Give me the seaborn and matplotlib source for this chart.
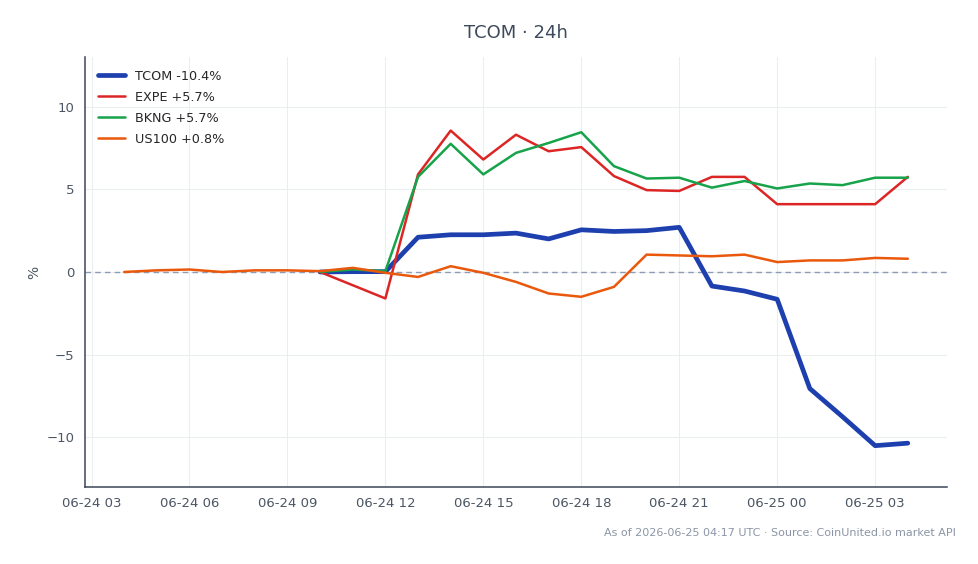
import matplotlib
matplotlib.use("Agg")
import matplotlib.pyplot as plt
import matplotlib.dates as mdates
import numpy as np
import pandas as pd
import seaborn as sns

# hourly points, 06-24 04:00 -> 06-25 04:00
times = pd.date_range("2026-06-24 04:00", "2026-06-25 04:00", freq="h")

us100 = [0.0, 0.1, 0.15, 0.0, 0.1, 0.1, 0.05, 0.25, -0.05, -0.3, 0.35, -0.05, -0.6,
         -1.3, -1.5, -0.9, 1.05, 1.0, 0.95, 1.05, 0.6, 0.7, 0.7, 0.85, 0.8]
# the stocks start at 10:00
tcom = [0.0, 0.02, 0.02, 2.1, 2.25, 2.25, 2.35, 2.0, 2.55, 2.45, 2.5, 2.7,
        -0.85, -1.15, -1.65, -7.05, -8.75, -10.5, -10.35]
expe = [0.0, -0.8, -1.6, 5.9, 8.55, 6.8, 8.3, 7.3, 7.55, 5.8, 4.95, 4.9,
        5.75, 5.75, 4.1, 4.1, 4.1, 4.1, 5.75]
bkng = [0.0, 0.15, 0.05, 5.75, 7.75, 5.9, 7.2, 7.8, 8.45, 6.4, 5.65, 5.7,
        5.1, 5.5, 5.05, 5.35, 5.25, 5.7, 5.7]

labels = ["TCOM -10.4%", "EXPE +5.7%", "BKNG +5.7%", "US100 +0.8%"]
colors = ["#1e40af", "#dc2626", "#16a34a", "#ea580c"]

stock_times = times[6:]
frames = [
    pd.DataFrame({"time": stock_times, "pct": tcom, "series": labels[0]}),
    pd.DataFrame({"time": stock_times, "pct": expe, "series": labels[1]}),
    pd.DataFrame({"time": stock_times, "pct": bkng, "series": labels[2]}),
    pd.DataFrame({"time": times, "pct": us100, "series": labels[3]}),
]
df = pd.concat(frames, ignore_index=True)

sns.set_style("whitegrid", {"grid.color": "#ebedf0", "axes.edgecolor": "#3b4656"})
plt.rcParams["font.family"] = ["DejaVu Sans"]

fig = plt.figure(figsize=(9.79, 5.64), dpi=100)
ax = fig.add_axes([0.0868, 0.1365, 0.8805, 0.7625])

sns.lineplot(data=df, x="time", y="pct", hue="series", hue_order=labels,
             palette=colors, size="series", sizes={labels[0]: 3.4, labels[1]: 1.8,
                                                   labels[2]: 1.8, labels[3]: 1.8},
             ax=ax, legend=True)

ax.axhline(0, color="#8d9bb3", lw=1, ls=(0, (4, 3)), zorder=1)

ax.set_ylim(-13, 13)
ax.set_yticks([-10, -5, 0, 5, 10])
ax.set_yticklabels(["\u221210", "\u22125", "0", "5", "10"])
ax.xaxis.set_major_locator(mdates.HourLocator(byhour=[0, 3, 6, 9, 12, 15, 18, 21]))
ax.xaxis.set_major_formatter(mdates.DateFormatter("%m-%d %H"))
ax.tick_params(colors="#4b5563", labelsize=9.5, length=4)
ax.tick_params(axis="both", which="major", color="#3b4656")
ax.set_xlabel("")
ax.set_ylabel("%", color="#4b5563", fontsize=10)

sns.despine(ax=ax)
for s in ["left", "bottom"]:
    ax.spines[s].set_linewidth(1.1)

handles, lbls = ax.get_legend_handles_labels()
leg = ax.legend(handles, lbls, loc="upper left", frameon=False, fontsize=9.2,
                handlelength=2.1, handletextpad=0.8, labelspacing=0.62,
                borderaxespad=0.6)

ax.set_title("TCOM \u00b7 24h", color="#3d4a5c", fontsize=13, pad=14)
fig.text(0.976, 0.055, "As of 2026-06-25 04:17 UTC \u00b7 Source: CoinUnited.io market API",
         ha="right", va="center", fontsize=8, color="#8b95a5")

fig.savefig("out.png", dpi=100)
